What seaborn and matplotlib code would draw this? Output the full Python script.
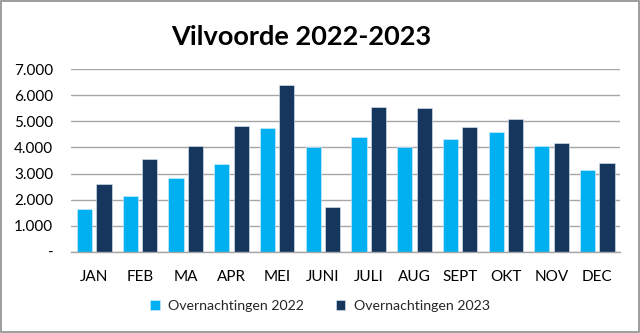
import matplotlib
matplotlib.use("Agg")
import matplotlib.pyplot as plt
import seaborn as sns
import pandas as pd
from matplotlib.patches import Rectangle
from matplotlib.ticker import FuncFormatter

months = ["JAN", "FEB", "MA", "APR", "MEI", "JUNI", "JULI", "AUG", "SEPT", "OKT", "NOV", "DEC"]
values_2022 = [1640, 2150, 2830, 3355, 4750, 4020, 4400, 4020, 4310, 4605, 4055, 3135]
values_2023 = [2590, 3560, 4045, 4840, 6410, 1715, 5540, 5530, 4785, 5105, 4160, 3390]
series_names = ["Overnachtingen 2022", "Overnachtingen 2023"]
title = "Vilvoorde 2022-2023"

df = pd.DataFrame({
    "Maand": months * 2,
    "Waarde": values_2022 + values_2023,
    "Reeks": [series_names[0]] * len(months) + [series_names[1]] * len(months),
})

sns.set_theme(style="white")
plt.rcParams["font.family"] = ["Lato", "DejaVu Sans"]

fig = plt.figure(figsize=(6.4, 3.33), dpi=100)
ax = fig.add_axes([0.1116, 0.2441, 0.8574, 0.5478])

palette = {series_names[0]: "#00B0F0", series_names[1]: "#17365D"}
sns.barplot(data=df, x="Maand", y="Waarde", hue="Reeks", order=months,
            hue_order=series_names, palette=palette, ax=ax,
            width=0.85, gap=0.22, saturation=1, errorbar=None,
            edgecolor="#DDEEFA", linewidth=0.4)

ax.set_ylim(0, 7000)
ax.set_xlim(-0.5, len(months) - 0.5)
ax.set_yticks(range(0, 7001, 1000))
ax.yaxis.set_major_formatter(FuncFormatter(lambda v, p: "-" if v == 0 else f"{int(v):,}".replace(",", ".")))
ax.grid(axis="y", color="#A6A6A6", linewidth=1.0)
ax.set_axisbelow(True)
for s in ["top", "right", "left"]:
    ax.spines[s].set_visible(False)
ax.spines["bottom"].set_color("#A6A6A6")
ax.spines["bottom"].set_linewidth(1.0)
ax.tick_params(axis="both", length=0, labelsize=11, colors="#000000")
ax.tick_params(axis="x", pad=13)
ax.tick_params(axis="y", pad=13)
ax.set_xlabel("")
ax.set_ylabel("")

fig.text(0.47, 0.888, title, ha="center", va="center", fontsize=19.5, fontweight="bold", color="#000000")

handles, labels = ax.get_legend_handles_labels()
ax.get_legend().remove()
fig.legend(handles, labels, loc="center", bbox_to_anchor=(0.5, 0.08), ncol=2, frameon=False,
           fontsize=10.2, handlelength=0.7, handleheight=0.7, columnspacing=2.2, handletextpad=0.6)

fig.patches.append(Rectangle((0.001, 0.002), 0.997, 0.995, transform=fig.transFigure,
                             fill=False, edgecolor="#8C8C8C", linewidth=1.2))

fig.savefig("out.png", dpi=100)
